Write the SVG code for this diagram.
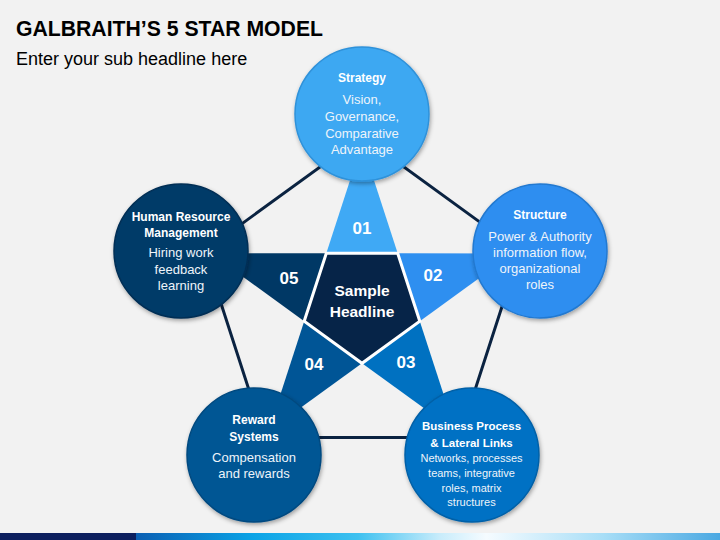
<svg xmlns="http://www.w3.org/2000/svg" width="720" height="540" viewBox="0 0 720 540">
<defs>
  <filter id="sh" x="-20%" y="-20%" width="140%" height="140%">
    <feDropShadow dx="1" dy="2" stdDeviation="2" flood-color="#000" flood-opacity="0.35"/>
  </filter>
  <linearGradient id="bar" x1="0" y1="0" x2="1" y2="0">
    <stop offset="0" stop-color="#0b5fb3"/>
    <stop offset="0.2" stop-color="#0aa3e6"/>
    <stop offset="0.38" stop-color="#3ec1f0"/>
    <stop offset="0.52" stop-color="#c8ecfb"/>
    <stop offset="0.6" stop-color="#f5fbff"/>
    <stop offset="0.8" stop-color="#a8def7"/>
    <stop offset="1" stop-color="#4aa8e2"/>
  </linearGradient>
  <style>
    .t{font-family:"Liberation Sans",Arial,sans-serif;fill:#fff;text-anchor:middle}
    .h{font-weight:bold;font-size:12px}
    .b{font-size:13px;fill:#eef4fa}
    .s{font-size:11px;fill:#eef4fa}
    .n{font-weight:bold;font-size:17px}
    .ln{stroke:#0b2341;stroke-width:3;fill:none}
  </style>
</defs>
<rect width="720" height="540" fill="#f2f2f2"/>
<text x="16" y="36" font-family="Liberation Sans,Arial,sans-serif" font-weight="bold" font-size="21.5" fill="#000" textLength="307" lengthAdjust="spacingAndGlyphs">GALBRAITH’S 5 STAR MODEL</text>
<text x="16" y="65" font-family="Liberation Sans,Arial,sans-serif" font-size="18" fill="#000">Enter your sub headline here</text>

<g id="connectors">
  <polygon class="ln" points="362,136.5 519.9,251.2 459.6,437.5 264.4,437.5 204.1,251.2"/>
</g>

<g id="star">
  <polygon id="p01" points="362,143.5 326.3,253.3 397.7,253.3" fill="#3fa9f5"/>
  <polygon id="p02" points="513.2,253.4 397.7,253.3 419.8,321.3" fill="#2e8ff0"/>
  <polygon id="p03" points="455.5,431.1 419.8,321.3 362,363.3" fill="#0071c1"/>
  <polygon id="p04" points="268.5,431.1 362,363.3 304.2,321.3" fill="#005596"/>
  <polygon id="p05" points="210.8,253.4 304.2,321.3 326.3,253.3" fill="#003865"/>
  <text class="t n" x="362" y="234">01</text>
  <text class="t n" x="433" y="281">02</text>
  <text class="t n" x="406" y="368">03</text>
  <text class="t n" x="314" y="370">04</text>
  <text class="t n" x="289" y="284">05</text>
</g>

<g id="center">
  <polygon points="326.3,253.3 397.7,253.3 419.8,321.3 362,363.3 304.2,321.3" fill="#062448" stroke="#fff" stroke-width="3" stroke-linejoin="miter"/>
  <text class="t" x="362" y="296" font-weight="bold" font-size="15.5">Sample</text>
  <text class="t" x="362" y="316.5" font-weight="bold" font-size="15.5">Headline</text>
</g>

<g id="strategy">
  <circle cx="362" cy="114" r="67" fill="#3ea8f2" stroke="#2f92da" stroke-width="1.5" filter="url(#sh)"/>
  <text class="t h" x="362" y="82">Strategy</text>
  <text class="t b" x="362" y="104">Vision,</text>
  <text class="t b" x="362" y="121">Governance,</text>
  <text class="t b" x="362" y="137.5">Comparative</text>
  <text class="t b" x="362" y="154">Advantage</text>
</g>

<g id="structure">
  <circle cx="540" cy="251" r="67" fill="#2e8ef0" stroke="#2379d0" stroke-width="1.5" filter="url(#sh)"/>
  <text class="t h" x="540" y="219">Structure</text>
  <text class="t b" x="540" y="240.5">Power &amp; Authority</text>
  <text class="t b" x="540" y="256.5">information flow,</text>
  <text class="t b" x="540" y="272.5">organizational</text>
  <text class="t b" x="540" y="289">roles</text>
</g>

<g id="business">
  <circle cx="472" cy="455" r="67" fill="#0071c4" stroke="#0061a8" stroke-width="1.5" filter="url(#sh)"/>
  <text class="t" x="471.5" y="430" font-weight="bold" font-size="11.5">Business Process</text>
  <text class="t" x="471.5" y="446.5" font-weight="bold" font-size="11.5">&amp; Lateral Links</text>
  <text class="t s" x="471.5" y="462">Networks, processes</text>
  <text class="t s" x="471.5" y="477">teams, integrative</text>
  <text class="t s" x="471.5" y="492">roles, matrix</text>
  <text class="t s" x="471.5" y="506">structures</text>
</g>

<g id="reward">
  <circle cx="254" cy="455" r="67" fill="#005694" stroke="#004a80" stroke-width="1.5" filter="url(#sh)"/>
  <text class="t h" x="254" y="424">Reward</text>
  <text class="t h" x="254" y="440.5">Systems</text>
  <text class="t b" x="254" y="461.5">Compensation</text>
  <text class="t b" x="254" y="477.5">and rewards</text>
</g>

<g id="hrm">
  <circle cx="181" cy="251" r="67" fill="#063a67" stroke="#042f55" stroke-width="1.5" filter="url(#sh)"/>
  <text class="t h" x="181" y="220.5">Human Resource</text>
  <text class="t h" x="181" y="236.5">Management</text>
  <text class="t b" x="181" y="257">Hiring work</text>
  <text class="t b" x="181" y="274">feedback</text>
  <text class="t b" x="181" y="290">learning</text>
</g>

<g id="bottombar">
  <rect x="136" y="533" width="584" height="7" fill="url(#bar)"/>
  <rect x="0" y="533" width="136" height="7" fill="#0c1f5e"/>
</g>
</svg>
